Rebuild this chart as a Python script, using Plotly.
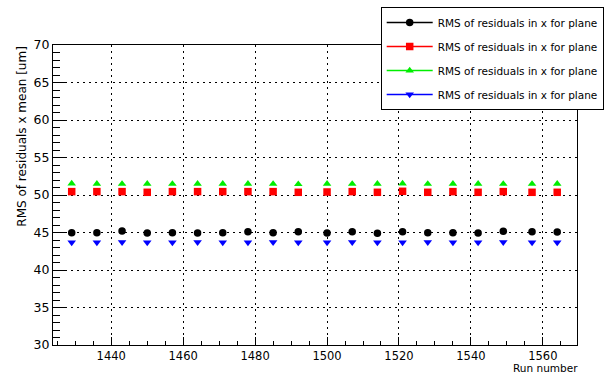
import plotly.graph_objects as go

runs = [1429, 1436, 1443, 1450, 1457, 1464, 1471, 1478, 1485, 1492,
        1500, 1507, 1514, 1521, 1528, 1535, 1542, 1549, 1557, 1564]
rms_black = [44.98, 44.98, 45.20, 44.93, 44.98, 44.93, 44.98, 45.11, 44.98, 45.11,
             44.93, 45.11, 44.89, 45.11, 44.98, 44.98, 44.93, 45.16, 45.11, 45.07]
rms_red = [50.45, 50.45, 50.45, 50.36, 50.45, 50.45, 50.45, 50.45, 50.45, 50.36,
           50.40, 50.45, 50.36, 50.49, 50.36, 50.45, 50.36, 50.45, 50.36, 50.36]
rms_green = [51.52, 51.50, 51.48, 51.50, 51.47, 51.50, 51.50, 51.49, 51.47, 51.45,
             51.50, 51.47, 51.50, 51.52, 51.47, 51.50, 51.50, 51.47, 51.48, 51.50]
rms_blue = [43.68, 43.68, 43.70, 43.68, 43.68, 43.70, 43.68, 43.68, 43.70, 43.68,
            43.68, 43.70, 43.68, 43.68, 43.70, 43.68, 43.68, 43.70, 43.68, 43.68]

legend_label = "RMS of residuals in x for plane"
series = [
    (rms_black, "black", "circle"),
    (rms_red, "red", "square"),
    (rms_green, "#00ee00", "triangle-up"),
    (rms_blue, "blue", "triangle-down"),
]

W, H = 607, 374
L, R, T, B = 53.3, 577.3, 45, 345
pw, ph = R - L, B - T

fig = go.Figure()
for i, (vals, col, sym) in enumerate(series):
    fig.add_trace(go.Scatter(x=runs, y=vals, mode="markers", showlegend=False,
                             marker=dict(color=col, symbol=sym, size=7.5, line=dict(width=0))))
for i, (vals, col, sym) in enumerate(series):
    fig.add_trace(go.Scatter(x=[None], y=[None], mode="lines+markers", name=legend_label,
                             legendgroup=f"g{i}",
                             line=dict(color=col, width=1.5),
                             marker=dict(color=col, symbol=sym, size=7.5, line=dict(width=0))))

font_family = "DejaVu Sans"
axis_common = dict(
    showline=True, linecolor="black", linewidth=1, mirror=True,
    ticks="inside", tickcolor="black", tickwidth=1,
    showgrid=True, gridcolor="black", gridwidth=1, griddash="2px,4px",
    zeroline=False,
)
fig.update_xaxes(range=[1423.8, 1569.5], dtick=20, tick0=1440, ticklen=8,
                 tickfont=dict(family=font_family, size=11.5, color="black"),
                 minor=dict(ticks="inside", ticklen=4, dtick=5, tickcolor="black", showgrid=False),
                 **axis_common)
fig.update_yaxes(range=[30, 70], dtick=5, tick0=30, ticklen=13,
                 tickfont=dict(family=font_family, size=12.5, color="black"),
                 minor=dict(ticks="inside", ticklen=7, dtick=1, tickcolor="black", showgrid=False),
                 **axis_common)

fig.add_annotation(text="RMS of residuals x mean [um]", textangle=-90,
                   xref="paper", yref="paper",
                   x=(22 - L) / pw, y=(B - 136) / ph,
                   xanchor="center", yanchor="middle", showarrow=False,
                   font=dict(family=font_family, size=12, color="black"))
fig.add_annotation(text="Run number", xref="paper", yref="paper",
                   x=(579 - L) / pw, y=(B - 368) / ph,
                   xanchor="right", yanchor="middle", showarrow=False, borderpad=0,
                   font=dict(family=font_family, size=10.5, color="black"))

fig.update_layout(
    width=W, height=H, autosize=False,
    margin=dict(l=L, r=W - R, t=T, b=H - B, pad=0, autoexpand=False),
    paper_bgcolor="white", plot_bgcolor="white",
    showlegend=True,
    legend=dict(x=(381 - L) / pw, y=(B - 7) / ph, xanchor="left", yanchor="top",
                bgcolor="white", bordercolor="black", borderwidth=1,
                font=dict(family=font_family, size=10.5, color="black"),
                itemwidth=46, tracegroupgap=5, traceorder="grouped"),
)

fig.write_html("out.html")
